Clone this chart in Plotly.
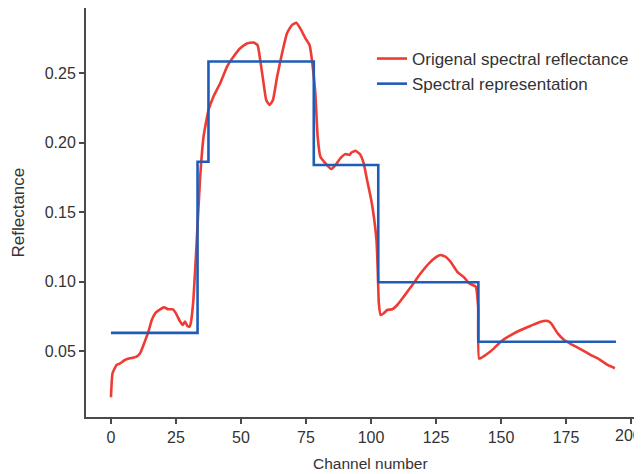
import plotly.graph_objects as go

# Original spectral reflectance
orig_channel = [0, 0.6, 2.2, 3.5, 5.4, 7.3, 9.9, 11.2, 12.5, 14.4, 15.7, 17, 18.9, 20.4, 22.1, 23.8,
                25, 26.6, 27.6, 28.5, 29.4, 30.2, 30.7, 31.7, 33.0, 34.3, 35.6, 37.5, 39.4, 42, 44.6,
                47.1, 49.7, 52.3, 54.8, 56.4, 57.4, 58.7, 59.7, 61, 62.3, 63.9, 65.8, 67.7, 69.6,
                71.3, 72.8, 74.8, 76.4, 77.3, 78.6, 79.5, 80.5, 82.5, 84.7, 86.3, 88.2, 90.2, 91.7,
                92.4, 94, 95.7, 97.2, 98.5, 100.1, 101.1, 102.1, 102.6, 103.0, 103.7, 104.9, 106.2,
                108.2, 110.1, 112.6, 115.9, 119.1, 122.3, 124.9, 126.8, 128.7, 130.6, 133.2, 135.8,
                137.7, 140.3, 141.2, 141.6, 144.1, 147.3, 149.9, 153.8, 157.6, 161.5, 165.3, 167.9,
                169.2, 171.8, 174.3, 176.9, 180.7, 184.6, 187.8, 191, 193.8]
orig_reflectance = [0.0167, 0.034, 0.040, 0.0411, 0.0435, 0.0447, 0.046, 0.0483, 0.0543, 0.064, 0.0723,
                    0.0771, 0.080, 0.0814, 0.080, 0.080, 0.0771, 0.0711, 0.0687, 0.0711, 0.068, 0.0675,
                    0.070, 0.0867, 0.130, 0.175, 0.204, 0.2234, 0.233, 0.2426, 0.2545, 0.2617, 0.2678,
                    0.2713, 0.272, 0.270, 0.2594, 0.2426, 0.2306, 0.227, 0.2306, 0.2473, 0.2642, 0.2786,
                    0.2845, 0.2862, 0.2821, 0.275, 0.270, 0.2594, 0.2354, 0.204, 0.190, 0.185, 0.1809,
                    0.1838, 0.1886, 0.1917, 0.191, 0.1927, 0.1941, 0.1917, 0.185, 0.173, 0.1586, 0.1466,
                    0.1299, 0.1083, 0.085, 0.0759, 0.0771, 0.0795, 0.080, 0.0831, 0.0891, 0.0975, 0.1059,
                    0.1131, 0.1174, 0.1191, 0.1178, 0.1142, 0.107, 0.103, 0.0987, 0.0963, 0.0819, 0.0445,
                    0.0471, 0.0519, 0.0567, 0.0615, 0.0651, 0.0682, 0.0711, 0.0716, 0.070, 0.0627,
                    0.0579, 0.055, 0.0512, 0.0471, 0.044, 0.040, 0.0376]

# Spectral representation (step function)
step_channel = [0, 33.3, 37.5, 78.0, 102.8, 141.3, 194.2]
step_reflectance = [0.0630, 0.1862, 0.2583, 0.1838, 0.0995, 0.0567, 0.0567]

x_ticks = [0, 25, 50, 75, 100, 125, 150, 175, 200]
x_tick_labels = ["0", "25", "50", "75", "100", "125", "150", "175", "200"]
y_ticks = [0.05, 0.10, 0.15, 0.20, 0.25]
y_tick_labels = ["0.05", "0.10", "0.15", "0.20", "0.25"]

RED = "#ee3b34"
BLUE = "#1f5cb8"
TEXT = "#333333"
AXIS = "#4a4a4a"

fig = go.Figure()
fig.add_trace(go.Scatter(x=orig_channel, y=orig_reflectance, mode="lines",
                         name="Origenal spectral reflectance",
                         line=dict(color=RED, width=2.6, shape="spline", smoothing=0.4)))
fig.add_trace(go.Scatter(x=step_channel, y=step_reflectance, mode="lines",
                         name="Spectral representation",
                         line=dict(color=BLUE, width=2.6, shape="hv")))

# page body has an 8px default margin, so the figure is drawn 8px right/down
PW, PH = 551, 409  # plot area size in px (x 86..637, y 8..417 on the page)
font_family = "Liberation Sans, Arial, sans-serif"

# last tick label sits at the right edge; draw it as an annotation nudged inward
shown_x_labels = x_tick_labels[:-1] + [""]
annotations = [
    dict(text=x_tick_labels[-1], xref="x", yref="paper", x=x_ticks[-1],
         y=(417 - 435) / PH, xanchor="center", yanchor="middle", xshift=-3,
         showarrow=False, font=dict(size=16, color=TEXT)),
    dict(text="Channel number", xref="paper", yref="paper",
         x=(370 - 86) / PW, y=(417 - 463) / PH, xanchor="center", yanchor="middle",
         showarrow=False, font=dict(size=15.5, color=TEXT)),
    dict(text="Reflectance", xref="paper", yref="paper",
         x=(18 - 86) / PW, y=0.5, xanchor="center", yanchor="middle",
         textangle=-90, showarrow=False, font=dict(size=17, color=TEXT)),
]

fig.update_layout(
    width=634, height=466,
    margin=dict(l=78, r=5, t=0, b=57, autoexpand=False),
    paper_bgcolor="white", plot_bgcolor="white",
    font=dict(family=font_family, size=16, color=TEXT),
    showlegend=True,
    legend=dict(x=(372 - 86) / PW, y=(417 - 41) / PH, xanchor="left", yanchor="top",
                bgcolor="rgba(0,0,0,0)", font=dict(size=17, color=TEXT),
                tracegroupgap=0, itemwidth=30),
    xaxis=dict(range=[-9.6, 202.3], tickvals=x_ticks, ticktext=shown_x_labels,
               showgrid=False, zeroline=False,
               automargin=False, ticklabeloverflow="allow",
               showline=True, linecolor=AXIS, linewidth=2, ticks="outside",
               ticklen=5, tickwidth=1.5, tickcolor=AXIS,
               tickfont=dict(size=16, color=TEXT)),
    yaxis=dict(range=[0.0025, 0.2968], tickvals=y_ticks, ticktext=y_tick_labels,
               showgrid=False, zeroline=False, automargin=False,
               showline=True, linecolor=AXIS, linewidth=2, ticks="outside",
               ticklen=5, tickwidth=1.5, tickcolor=AXIS,
               tickfont=dict(size=16, color=TEXT)),
    annotations=annotations,
)

fig.write_html("out.html")
